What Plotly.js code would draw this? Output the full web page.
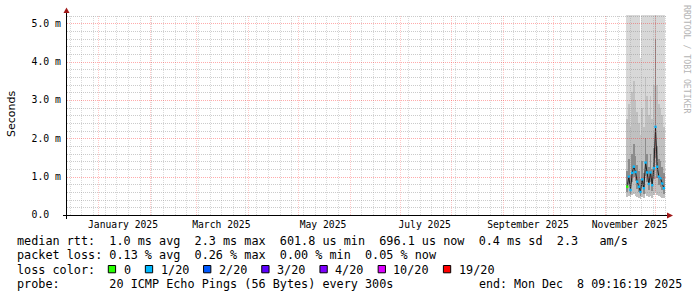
<!DOCTYPE html>
<html><head><meta charset="utf-8">
<script src="https://cdn.plot.ly/plotly-3.0.1.min.js"></script>
<style>html,body{margin:0;padding:0;background:#fff}#chart{width:697px;height:297px}</style>
</head><body><div id="chart"></div>
<script>
// ---------- data ----------
const rangeStart = '2024-12-13 09:16:19';
const rangeEnd   = '2025-12-08 09:16:19';
const dates = ['2025-11-14 12:00','2025-11-15 12:00','2025-11-16 12:00','2025-11-17 12:00','2025-11-18 12:00',
  '2025-11-19 12:00','2025-11-20 12:00','2025-11-21 12:00','2025-11-22 12:00','2025-11-23 12:00','2025-11-24 12:00',
  '2025-11-25 12:00','2025-11-26 12:00','2025-11-27 12:00','2025-11-28 12:00','2025-11-29 12:00','2025-11-30 12:00',
  '2025-12-01 12:00','2025-12-02 12:00','2025-12-03 12:00','2025-12-04 12:00','2025-12-05 12:00','2025-12-06 12:00'];
const medianMs = [0.74,1.00,0.65,1.10,1.26,1.12,0.87,0.74,0.60,0.93,0.70,1.37,1.11,0.81,1.11,0.78,1.22,2.30,1.26,1.00,0.96,0.82,0.70];
const lossIdx  = [0,1,1,1,1,1,1,1,1,1,1,1,1,1,1,1,1,1,1,1,1,1,1];
const minMs = [0.48,0.50,0.46,0.52,0.55,0.50,0.47,0.45,0.42,0.48,0.44,0.55,0.50,0.46,0.50,0.45,0.52,0.60,0.52,0.50,0.48,0.45,0.44];
const q1Ms  = [0.60,0.78,0.55,0.86,0.98,0.88,0.68,0.60,0.50,0.74,0.56,1.02,0.86,0.64,0.86,0.62,0.94,1.50,0.96,0.78,0.74,0.64,0.56];
const q3Ms  = [1.15,1.45,1.05,1.60,1.85,1.55,1.30,1.15,0.95,1.40,1.10,2.00,1.60,1.25,1.60,1.20,1.75,4.60,1.80,1.45,1.40,1.25,1.10];
const p90Ms = [2.50,2.90,2.30,3.20,3.50,3.00,2.70,2.40,2.10,2.80,2.30,3.60,3.10,2.60,3.10,2.50,3.40,6.00,3.40,2.90,2.80,2.60,2.30];
const maxMs = [6.0,6.0,6.0,6.0,6.0,6.0,6.0,6.0,4.1,6.0,6.0,6.0,6.0,6.0,6.0,6.0,6.0,6.0,6.0,6.0,6.0,6.0,6.0];

const yTickVals = [0,1,2,3,4,5];
const yTickText = ['0.0  ','1.0 m','2.0 m','3.0 m','4.0 m','5.0 m'];
const monthStarts = ['2025-01-01','2025-02-01','2025-03-01','2025-04-01','2025-05-01','2025-06-01',
  '2025-07-01','2025-08-01','2025-09-01','2025-10-01','2025-11-01','2025-12-01'];
const xLabelDates = ['2025-01-16','2025-03-16','2025-05-16','2025-07-16','2025-09-16','2025-11-16'];
const xLabelText  = ['January 2025','March 2025','May 2025','July 2025','September 2025','November 2025'];

const lossLabels = ['0','1/20','2/20','3/20','4/20','10/20','19/20'];
const lossColors = ['#26ff00','#00b8ff','#0059ff','#5e00ff','#7e00ff','#dd00ff','#ff0000'];

const statLines = [
  'median rtt:  1.0 ms avg  2.3 ms max  601.8 us min  696.1 us now  0.4 ms sd  2.3   am/s',
  'packet loss: 0.13 % avg  0.26 % max  0.00 % min  0.05 % now'
];
const lossTitle = 'loss color:';
const probeText = 'probe:       20 ICMP Echo Pings (56 Bytes) every 300s';
const endText = 'end: Mon Dec  8 09:16:19 2025';
const yTitle = 'Seconds';
const watermark = 'RRDTOOL / TOBI OETIKER';

// ---------- layout helpers ----------
const W = 697, H = 297, L = 67, T = 15, PW = 600, PH = 200;
const YMAX = 5.218;
const px = p => (p - L) / PW;
const py = p => (T + PH - p) / PH;
const nb = s => s.replace(/ /g, '\u00a0');
const MONO = 'DejaVu Sans Mono';
const DAY = 86400000;
const diff = (a, b) => a.map((v, i) => v - b[i]);
const toMs = s => Date.parse(s.replace(' ', 'T') + (s.length <= 10 ? 'T00:00:00Z' : 'Z'));
const t0 = toMs(rangeStart), t1 = toMs(rangeEnd);
// pixel-snapped grid positions (like rrdtool)
const snapX = ms => px(Math.round(L + (ms - t0) / (t1 - t0) * PW) + 0.5);
const snapY = v => py(Math.round(T + PH - v / YMAX * PH) + 0.5);

function band(top, bottom, color) {
  return {type:'bar', x:dates, y:diff(top, bottom), base:bottom, width:DAY,
    marker:{color:color, line:{width:0}}, hoverinfo:'skip', showlegend:false};
}

const traces = [
  band(maxMs, minMs, '#d8d8d8'),
  band(p90Ms, minMs, '#c0c0c0'),
  band(q3Ms, q1Ms, '#8c8c8c'),
  {type:'scatter', mode:'lines', x:dates, y:medianMs, line:{color:'#202020', width:1},
    hoverinfo:'skip', showlegend:false},
  {type:'scatter', mode:'markers', x:dates, y:medianMs, xaxis:'x2',
    marker:{symbol:'square', size:2.4, color:lossIdx.map(i => lossColors[i]), line:{width:0}},
    hoverinfo:'skip', showlegend:false}
];

// grid lines drawn above the smoke, as rrdtool does
const shapes = [];
const minorColH = 'rgba(140,140,140,0.45)', majorColH = 'rgba(255,0,0,0.33)';
const minorColV = 'rgba(140,140,140,0.32)', majorColV = 'rgba(255,0,0,0.22)';
const vLine = (ms, col) => ({type:'line', layer:'above', xref:'paper', yref:'paper',
  x0:snapX(ms), x1:snapX(ms), y0:0, y1:1, line:{width:1, dash:'1px,1px', color:col}});
const hLine = (v, col) => ({type:'line', layer:'above', xref:'paper', yref:'paper',
  x0:0, x1:1, y0:snapY(v), y1:snapY(v), line:{width:1, dash:'1px,1px', color:col}});
const monthMs = monthStarts.map(toMs);
for (let t = Date.UTC(2024, 11, 15); t < t1; t += 7 * DAY) {
  if (monthMs.indexOf(t) >= 0) continue;
  shapes.push(vLine(t, minorColV));
}
for (let k = 1; k <= 26; k++) {
  if (k % 5 === 0) continue;
  shapes.push(hLine(k / 5, minorColH));
}
monthMs.forEach(t => shapes.push(vLine(t, majorColV)));
yTickVals.slice(1).forEach(v => shapes.push(hLine(v, majorColH)));

// axes lines and arrows
shapes.push({type:'line', xref:'paper', yref:'paper', x0:px(63), x1:px(668), y0:py(215.5), y1:py(215.5), layer:'above', line:{color:'#000', width:1}});
shapes.push({type:'line', xref:'paper', yref:'paper', x0:px(66.5), x1:px(66.5), y0:py(219), y1:py(12), layer:'above', line:{color:'#000', width:1}});
shapes.push({type:'path', xref:'paper', yref:'paper', layer:'above',
  path:`M ${px(63.5)} ${py(13)} L ${px(69.5)} ${py(13)} L ${px(66.5)} ${py(7.5)} Z`, fillcolor:'#a01818', line:{width:0}});
shapes.push({type:'path', xref:'paper', yref:'paper', layer:'above',
  path:`M ${px(667)} ${py(212.5)} L ${px(667)} ${py(218.5)} L ${px(673)} ${py(215.5)} Z`, fillcolor:'#a01818', line:{width:0}});

const annotations = [];
const FS = 11.8;
const ann = (text, x, y, o) => Object.assign({xref:'paper', yref:'paper', x:px(x), y:py(y), text:nb(text),
  showarrow:false, xanchor:'left', yanchor:'middle', borderpad:0,
  font:{family:MONO, size:FS, color:'#000'}}, o || {});

const rowY = [241, 255.3, 269.6, 284];
statLines.forEach((s, i) => annotations.push(ann(s, 15.5, rowY[i])));
annotations.push(ann(lossTitle, 15.5, rowY[2]));
let cur = 108.3;
lossLabels.forEach((lab, i) => {
  shapes.push({type:'rect', xref:'paper', yref:'paper', layer:'above',
    x0:px(cur), x1:px(cur + 7.3), y0:py(265.5), y1:py(272.8),
    fillcolor:lossColors[i], line:{color:'#000', width:1}});
  const tx = cur + 15;
  annotations.push(ann(lab, tx - 0.8, rowY[2]));
  cur = tx + lab.length * 7.05 + 15;
});
annotations.push(ann(probeText, 15.5, rowY[3]));
annotations.push(ann(endText, 477.8, rowY[3], {font:{family:MONO, size:11.65, color:'#000'}}));
annotations.push({xref:'paper', yref:'paper', x:px(11), y:py(114), text:yTitle, textangle:-90, showarrow:false,
  xanchor:'center', yanchor:'middle', font:{family:'DejaVu Sans', size:11, color:'#000'}});
annotations.push({xref:'paper', yref:'paper', x:px(687), y:py(59), text:nb(watermark), textangle:90, showarrow:false,
  xanchor:'center', yanchor:'middle', font:{family:MONO, size:8.2, color:'#b4b4b4'}});

const layout = {
  width:W, height:H, margin:{l:L, r:W - L - PW, t:T, b:H - T - PH, pad:0},
  paper_bgcolor:'#fff', plot_bgcolor:'#fff', showlegend:false,
  barmode:'overlay', bargap:0,
  xaxis:{type:'date', range:[rangeStart, rangeEnd], tickmode:'array', tickvals:monthStarts,
    showticklabels:false, ticks:'', showgrid:false, zeroline:false, showline:false, fixedrange:true},
  xaxis2:{type:'date', overlaying:'x', anchor:'y', side:'bottom', range:[rangeStart, rangeEnd],
    tickmode:'array', tickvals:xLabelDates, ticktext:xLabelText, ticks:'', showgrid:false, zeroline:false,
    showline:false, ticklabelstandoff:2, tickfont:{family:MONO, size:9.7, color:'#000'}, fixedrange:true},
  yaxis:{range:[0, YMAX], tickmode:'array', tickvals:yTickVals, ticktext:yTickText.map(nb), ticks:'',
    showgrid:false, zeroline:false, showline:false, ticklabelstandoff:5,
    tickfont:{family:MONO, size:9.8, color:'#000'}, fixedrange:true},
  shapes:shapes, annotations:annotations
};

Plotly.newPlot('chart', traces, layout, {staticPlot:true, displayModeBar:false});
</script></body></html>
